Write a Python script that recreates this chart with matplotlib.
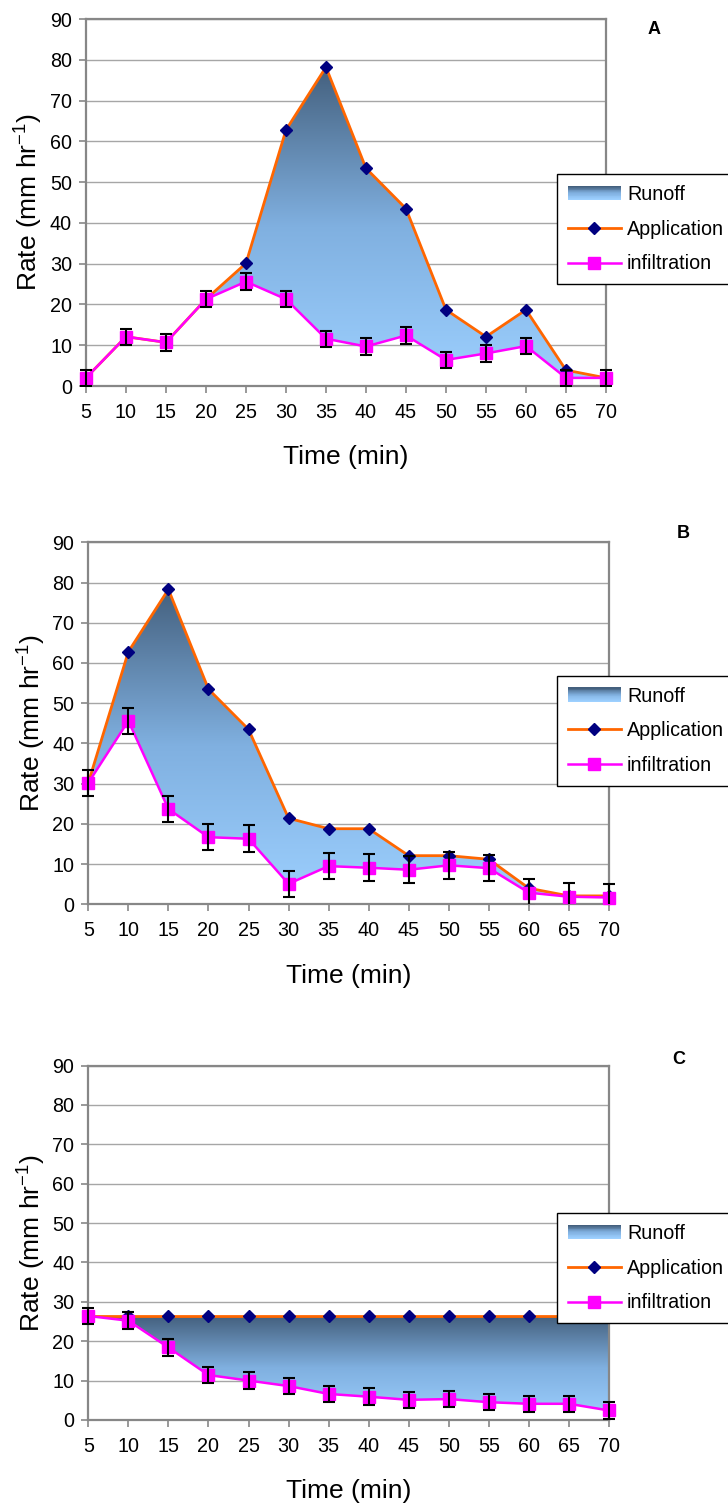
import numpy as np
import matplotlib
matplotlib.use("Agg")
import matplotlib.pyplot as plt
from matplotlib.colors import LinearSegmentedColormap
from matplotlib.patches import Polygon, Rectangle
from matplotlib.lines import Line2D
from matplotlib.legend_handler import HandlerBase
from matplotlib.transforms import Bbox, TransformedBbox

plt.rcParams['font.family'] = ['Liberation Sans', 'DejaVu Sans']

# time steps (min)
time = [5, 10, 15, 20, 25, 30, 35, 40, 45, 50, 55, 60, 65, 70]

# panel A
app_a = [2.0, 12.1, 10.7, 21.3, 30.1, 62.8, 78.2, 53.4, 43.5, 18.7, 12.1, 18.7, 3.9, 2.0]
inf_a = [2.0, 12.1, 10.7, 21.3, 25.6, 21.3, 11.6, 9.7, 12.4, 6.4, 8.0, 9.8, 2.0, 2.0]
err_a = [2.0] * 14

# panel B
app_b = [30.2, 62.8, 78.3, 53.5, 43.5, 21.4, 18.8, 18.8, 12.1, 12.1, 11.2, 4.0, 2.1, 2.1]
inf_b = [30.2, 45.6, 23.7, 16.7, 16.3, 5.1, 9.5, 9.1, 8.6, 9.7, 9.0, 2.9, 1.9, 1.7]
err_b = [3.3] * 14

# panel C
app_c = [26.4] * 14
inf_c = [26.4, 25.2, 18.4, 11.4, 10.0, 8.6, 6.6, 5.9, 5.1, 5.3, 4.5, 4.1, 4.1, 2.4]
err_c = [2.1] * 14

panels = [
    ("A", app_a, inf_a, err_a),
    ("B", app_b, inf_b, err_b),
    ("C", app_c, inf_c, err_c),
]

# runoff fill, light at the bottom, dark at the top
runoff_cmap = LinearSegmentedColormap.from_list("runoff", ["#9dd0ff", "#80b0e0", "#44607e"])


class GradientHandler(HandlerBase):
    def create_artists(self, legend, orig_handle, xdescent, ydescent,
                       width, height, fontsize, trans):
        n = 16
        arts = []
        for i in range(n):
            r = Rectangle((-xdescent, -ydescent + i * height / n), width, height / n + 0.3,
                          facecolor=runoff_cmap(i / (n - 1)), edgecolor='none',
                          transform=trans)
            arts.append(r)
        return arts


# axes boxes in figure fractions: left, bottom, width, height
ax_boxes = [
    [0.1181, 0.7440, 0.7143, 0.2434],
    [0.1213, 0.4003, 0.7152, 0.2401],
    [0.1213, 0.0584, 0.7152, 0.2350],
]
legend_tops = [0.8846, 0.5519, 0.1956]
letter_pos = [(654 / 728, 1 - 30 / 1508), (683 / 728, 1 - 534 / 1508), (679 / 728, 1 - 1059 / 1508)]

fig = plt.figure(figsize=(7.28, 15.08), dpi=100)
grey = "#878787"

for n, (letter, app, inf, err) in enumerate(panels):
    ax = fig.add_axes(ax_boxes[n])
    x = np.array(time, dtype=float)
    app = np.array(app)
    inf = np.array(inf)

    # gradient clipped to the runoff area
    grad = np.linspace(0, 1, 256).reshape(-1, 1)
    im = ax.imshow(grad, extent=[x[0], x[-1], 0, app.max()], origin='lower',
                   aspect='auto', cmap=runoff_cmap, zorder=1, interpolation='bilinear')
    verts = np.column_stack([np.r_[x, x[::-1]], np.r_[app, inf[::-1]]])
    poly = Polygon(verts, closed=True, facecolor='none', edgecolor='none')
    ax.add_patch(poly)
    im.set_clip_path(poly)

    ax.plot(x, app, color="#ff6600", lw=2.0, marker='D', ms=6.5,
            mfc="#000080", mec="#000080", zorder=3, clip_on=False)
    ax.plot(x, inf, color="#ff00ff", lw=1.8, marker='s', ms=8,
            mfc="#ff00ff", mec="#ff00ff", zorder=4, clip_on=False)
    eb = ax.errorbar(x, inf, yerr=err, fmt='none', ecolor='black', elinewidth=1.5,
                     capsize=4.5, capthick=1.5, zorder=5)
    cb = TransformedBbox(Bbox([[-0.1, 0], [1.1, 1.1]]), ax.transAxes)
    for art in list(eb.lines[1]) + list(eb.lines[2]):
        art.set_clip_box(cb)
        art.set_clip_on(True)

    ax.set_xlim(5, 70)
    ax.set_ylim(0, 90)
    ax.set_xticks(time)
    ax.set_yticks(range(0, 91, 10))
    ax.yaxis.grid(True, color="#a6a6a6", lw=1.0)
    ax.set_axisbelow(True)
    for sp in ax.spines.values():
        sp.set_color(grey)
        sp.set_linewidth(1.6)
    ax.tick_params(axis='both', colors=grey, length=5, width=1.2, labelsize=14.2,
                   labelcolor='black', pad=5)
    ax.tick_params(axis='x', pad=7)

    ax.set_xlabel("Time (min)", fontsize=19, labelpad=17)
    ax.set_ylabel("Rate (mm hr$^{\\mathregular{-1}}$)", fontsize=19, labelpad=4)

    handles = [Rectangle((0, 0), 1, 1),
               Line2D([], [], color="#ff6600", lw=2.0, marker='D', ms=6.5,
                      mfc="#000080", mec="#000080"),
               Line2D([], [], color="#ff00ff", lw=1.8, marker='s', ms=8,
                      mfc="#ff00ff", mec="#ff00ff")]
    leg = fig.legend(handles, ["Runoff", "Application", "infiltration"],
                     loc='upper left', bbox_to_anchor=(0.765, legend_tops[n]),
                     bbox_transform=fig.transFigure, fontsize=14.2,
                     handler_map={Rectangle: GradientHandler()},
                     frameon=True, fancybox=False, framealpha=1,
                     edgecolor='black', borderpad=0.55, labelspacing=0.8,
                     handlelength=2.7, handletextpad=0.3, borderaxespad=0)
    leg.get_frame().set_linewidth(1.0)
    leg.set_zorder(10)

    fig.text(letter_pos[n][0], letter_pos[n][1], letter, fontsize=13, fontweight='bold',
             ha='center', va='center')

fig.savefig("out.png", dpi=100)
